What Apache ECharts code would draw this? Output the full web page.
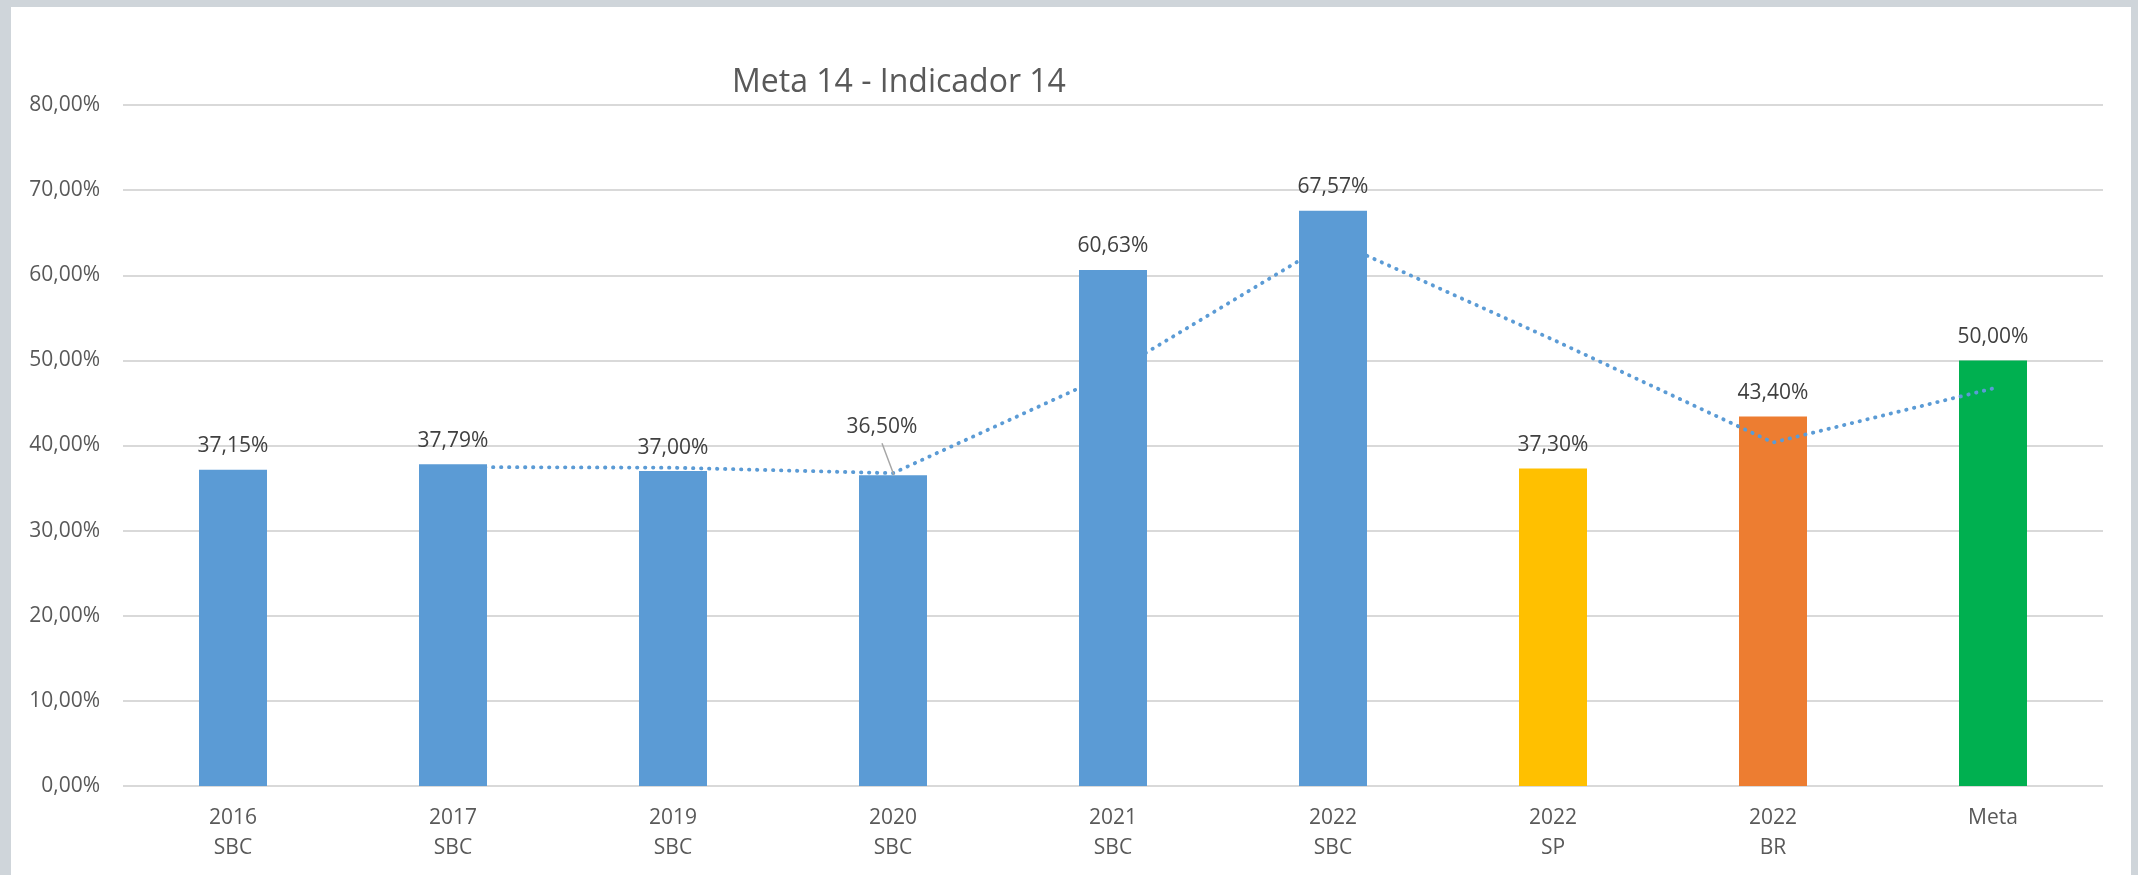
<!DOCTYPE html>
<html lang="pt-BR">
<head>
<meta charset="utf-8">
<title>Meta 14 - Indicador 14</title>
<script src="https://cdn.jsdelivr.net/npm/echarts@6/dist/echarts.min.js"></script>
<style>
  html, body { margin: 0; padding: 0; background: #cfd5da; width: 2138px; height: 875px; overflow: hidden; }
  #grafico { position: absolute; left: 11px; top: 7px; width: 2120px; height: 868px; background: #ffffff; }
</style>
</head>
<body>
<div id="grafico"></div>
<script>
// Categorias do eixo X (ano na primeira linha, abrangência na segunda)
const anos = ['2016', '2017', '2019', '2020', '2021', '2022', '2022', '2022', 'Meta'];
const locais = ['SBC', 'SBC', 'SBC', 'SBC', 'SBC', 'SBC', 'SP', 'BR', ''];

// Percentuais de São Bernardo do Campo (2016 a 2022)
const valoresSBC = [37.15, 37.79, 37.00, 36.50, 60.63, 67.57];
// Referências: São Paulo 2022, Brasil 2022 e Meta
const valoresReferencia = [37.30, 43.40, 50.00];

// Marcas do eixo Y (em %)
const eixoMin = 0;
const eixoMax = 80;
const eixoPasso = 10;

const categorias = anos.map((a, i) => locais[i] ? a + '\n' + locais[i] : a);
const todos = valoresSBC.concat(valoresReferencia);

// Linha de tendência: média móvel de 2 períodos sobre todas as barras
const mediaMovel = todos.map((v, i) => i === 0 ? '-' : +((todos[i - 1] + v) / 2).toFixed(3));

const coresReferencia = ['#FFC000', '#ED7D31', '#00B050'];
const fmt = v => Number(v).toFixed(2).replace('.', ',') + '%';
const fonte = '"Open Sans", "Noto Sans", sans-serif';

// índice da barra cujo rótulo é deslocado para cima, com linha de chamada
const rotuloDeslocado = 3;
const deslocX = -11, deslocY = -25;

const dadosSBC = categorias.map((c, i) => i < valoresSBC.length ? valoresSBC[i] : '-');
const dadosReferencia = categorias.map((c, i) => {
  const j = i - valoresSBC.length;
  if (j < 0) return '-';
  return { value: valoresReferencia[j], itemStyle: { color: coresReferencia[j] } };
});

const rotulo = {
  show: true,
  position: 'top',
  distance: 13,
  color: '#404040',
  fontFamily: fonte,
  fontSize: 21,
  formatter: p => fmt(p.value)
};

const grafico = echarts.init(document.getElementById('grafico'), null, { renderer: 'canvas' });
grafico.setOption({
  backgroundColor: '#ffffff',
  animation: false,
  title: {
    text: 'Meta 14 - Indicador 14',
    left: 716,
    top: 55,
    textStyle: { color: '#595959', fontFamily: fonte, fontSize: 32, fontWeight: 'normal' }
  },
  grid: { left: 112, right: 28, top: 98, bottom: 89, containLabel: false },
  xAxis: {
    type: 'category',
    data: categorias,
    axisLine: { show: false },
    axisTick: { show: false },
    axisLabel: {
      color: '#595959',
      fontFamily: fonte,
      fontSize: 21,
      lineHeight: 30,
      margin: 17,
      interval: 0
    }
  },
  yAxis: {
    type: 'value',
    min: eixoMin,
    max: eixoMax,
    interval: eixoPasso,
    axisLine: { show: false },
    axisTick: { show: false },
    splitLine: { lineStyle: { color: '#d9d9d9', width: 2 } },
    axisLabel: {
      color: '#595959',
      fontFamily: fonte,
      fontSize: 21,
      margin: 23,
      formatter: v => fmt(v)
    }
  },
  series: [
    {
      name: 'SBC',
      type: 'bar',
      z: 4,
      barWidth: 68,
      barGap: '-100%',
      itemStyle: { color: '#5B9BD5' },
      label: rotulo,
      labelLayout: p => p.dataIndex === rotuloDeslocado ? { dx: deslocX, dy: deslocY } : {},
      data: dadosSBC
    },
    {
      name: 'Média móvel',
      type: 'line',
      z: 3,
      data: mediaMovel,
      symbol: 'none',
      silent: true,
      lineStyle: { color: '#5B9BD5', width: 3.8, type: [0.4, 7.6], cap: 'round' }
    },
    {
      name: 'Referências',
      type: 'bar',
      z: 2,
      barWidth: 68,
      barGap: '-100%',
      label: rotulo,
      data: dadosReferencia
    }
  ]
});

// linha de chamada: do rótulo deslocado até o topo da sua barra
const topoBarra = grafico.convertToPixel({ seriesIndex: 0 },
  [rotuloDeslocado, valoresSBC[rotuloDeslocado]]);
grafico.setOption({
  graphic: [{
    type: 'line',
    z: 10,
    silent: true,
    shape: {
      x1: topoBarra[0] + deslocX,
      y1: topoBarra[1] - 32,
      x2: topoBarra[0] + 1,
      y2: topoBarra[1]
    },
    style: { stroke: '#a6a6a6', lineWidth: 1.5 }
  }]
});
</script>
</body>
</html>
